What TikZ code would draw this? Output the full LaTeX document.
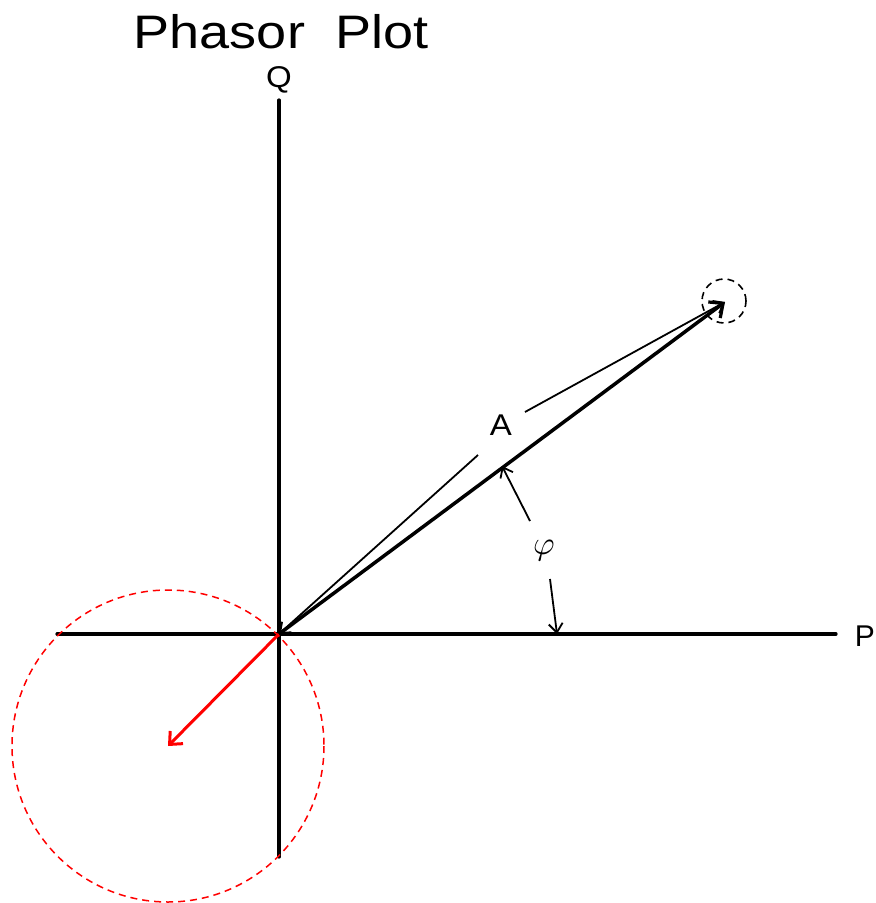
\documentclass[tikz,border=0pt]{standalone}
\usepackage{fontspec}
\setmainfont{Liberation Sans}
\usetikzlibrary{arrows.meta}
\begin{document}
\begin{tikzpicture}[x=1pt,y=-1pt,
  axis/.style={line width=3.2pt,line cap=round},
  thinline/.style={line width=1.8pt},
  tip/.style={-{Straight Barb[length=9pt,width=14pt,line width=1.8pt]}},
  lbl/.style={font=\fontsize{30}{32}\selectfont,inner sep=0pt,xscale=1.1}]
\useasboundingbox (0,0) rectangle (876,903);
% points
\coordinate (O) at (279,634);
\coordinate (Qtop) at (279,100);
\coordinate (Qbot) at (279,857);
\coordinate (Pl) at (57,634);
\coordinate (Pr) at (836,634);
\coordinate (T) at (725,302);
\coordinate (C) at (168,746);
% title and labels
\node[font=\fontsize{47}{49}\selectfont,inner sep=0pt,xscale=1.15] (title) at (281,32) {Phasor\ \ Plot};
\node[lbl] (Q) at (279,80) {Q};
\node[font=\fontsize{30}{32}\selectfont,inner sep=0pt,anchor=east] (P) at (875,636) {P};
\node[lbl] (A) at (501,425) {A};
\node[inner sep=0pt] (phi) at (544,551) {\scalebox{3.3}{$\mathbf{\varphi}$}};
% axes
\draw[axis] (Qtop) -- (Qbot);
\draw[axis] (Pl) -- (Pr);
% red circle and arrow
\draw[red,line width=1.5pt,dash pattern=on 7pt off 5pt] (C) circle[radius=156];
\draw[red,line width=3pt,-{Straight Barb[length=10pt,width=18pt,line width=3pt]}] (O) -- (C);
% small dashed circle
\node[draw,circle,line width=1.6pt,dash pattern=on 7pt off 5pt,minimum size=44pt,inner sep=0pt] (tipc) at (724,301) {};
% phasor
\draw[line width=3.5pt,-{Straight Barb[length=11pt,width=20pt,line width=3.2pt]}] (O) -- (T);
% dimension line A
\coordinate (A1) at (478,455);
\coordinate (A2) at (525,412);
\draw[thinline,tip] (A1) -- (O);
\draw[thinline,tip] (A2) -- (T);
% angle phi
\coordinate (F1) at (530,521);
\coordinate (F2) at (502,466);
\coordinate (G1) at (550,579);
\coordinate (G2) at (557,634);
\draw[thinline,tip] (F1) -- (F2);
\draw[thinline,tip] (G1) -- (G2);
\end{tikzpicture}
\end{document}
